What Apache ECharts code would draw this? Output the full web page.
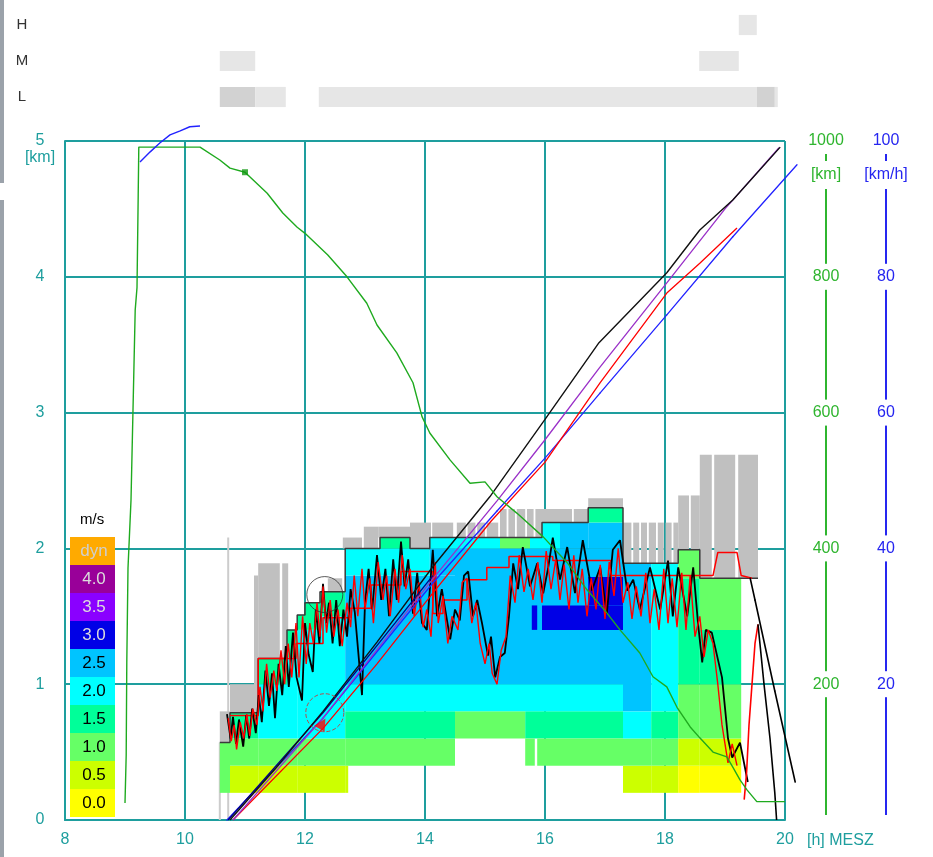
<!DOCTYPE html>
<html>
<head>
<meta charset="utf-8"/>
<style>
  html, body { margin: 0; height: 100%; background: #fff; }
  #main { width: 933px; height: 857px; }
</style>
<script src="https://cdn.jsdelivr.net/npm/echarts@6/dist/echarts.min.js"></script>
</head>
<body>
<div id="main"></div>
<script type="text/javascript">
// Steigwerte (m/s) Farbstufen
var levelNames  = ['0.0', '0.5', '1.0', '1.5', '2.0', '2.5', '3.0', '3.5', '4.0', 'dyn'];
var levelColors = ['#ffff00', '#ccff00', '#66ff66', '#00ff99', '#00ffff', '#00c4ff', '#0000e6', '#8a00ff', '#990099', '#ffaa00'];
var levelTextColors = ['#000', '#000', '#000', '#000', '#000', '#000', '#dcdcdc', '#dcdcdc', '#dcdcdc', '#cfcfcf'];

// Bewoelkung oben: [von, bis, zeile(0=H,1=M,2=L), dunkel]
var cloudRows = ['H', 'M', 'L'];
var cloudBars = [
  [19.23, 19.53, 0, 0],
  [10.58, 11.17, 1, 0], [18.57, 19.23, 1, 0],
  [10.58, 11.17, 2, 1], [11.17, 11.68, 2, 0], [12.23, 19.53, 2, 0], [19.53, 19.83, 2, 1], [19.83, 19.88, 2, 0]
];

// Thermik-Zellen: [von h, bis h, unten km, oben km, stufe]
var cells = [
  [10.58, 10.75, 0.2, 0.57, 2],
  [10.75, 11.22, 0.2, 0.4, 1], [10.75, 11.22, 0.4, 0.6, 2], [10.75, 11.22, 0.6, 0.79, 3],
  [11.22, 11.70, 0.2, 0.4, 1], [11.22, 11.70, 0.4, 0.6, 2], [11.22, 11.70, 0.6, 1.0, 4], [11.22, 11.70, 1.0, 1.19, 3],
  [11.70, 11.87, 0.2, 0.4, 1], [11.70, 11.87, 0.4, 0.6, 2], [11.70, 11.87, 0.6, 1.2, 4], [11.70, 11.87, 1.2, 1.4, 3],
  [11.87, 12.00, 0.2, 0.4, 1], [11.87, 12.00, 0.4, 0.6, 2], [11.87, 12.00, 0.6, 1.4, 4], [11.87, 12.00, 1.4, 1.51, 3],
  [12.00, 12.25, 0.2, 0.4, 1], [12.00, 12.25, 0.4, 0.6, 2], [12.00, 12.25, 0.6, 1.4, 4], [12.00, 12.25, 1.4, 1.6, 3],
  [12.25, 12.67, 0.2, 0.4, 1], [12.25, 12.67, 0.4, 0.6, 2], [12.25, 12.67, 0.6, 1.5, 4], [12.25, 12.67, 1.5, 1.68, 3],
  [12.67, 12.72, 0.2, 0.4, 1],
  [12.67, 14.50, 0.4, 0.6, 2], [12.67, 14.50, 0.6, 0.8, 3], [12.67, 14.50, 0.8, 1.0, 4], [12.67, 14.50, 1.0, 1.8, 5],
  [12.67, 14.08, 1.8, 2.0, 4], [14.08, 14.50, 1.8, 2.0, 5],
  [13.25, 13.75, 2.0, 2.08, 3], [14.08, 14.50, 2.0, 2.08, 4],
  [14.50, 15.67, 0.6, 0.8, 2], [15.67, 17.30, 0.6, 0.8, 3],
  [14.50, 17.30, 0.8, 1.0, 4], [14.50, 17.30, 1.0, 2.0, 5],
  [14.50, 15.25, 2.0, 2.08, 4], [15.25, 15.75, 2.0, 2.08, 2], [15.75, 15.95, 2.0, 2.08, 4],
  [15.67, 15.83, 0.4, 0.6, 2], [15.87, 17.30, 0.4, 0.6, 2],
  [15.95, 16.25, 2.0, 2.19, 4], [16.25, 16.72, 2.0, 2.19, 5],
  [16.72, 17.30, 2.0, 2.19, 5], [16.72, 17.30, 2.19, 2.3, 3],
  [15.78, 15.87, 1.4, 1.58, 6], [15.95, 17.30, 1.4, 1.58, 6], [16.72, 17.30, 1.58, 1.79, 6],
  [17.30, 17.77, 0.2, 0.4, 1], [17.30, 17.77, 0.4, 0.6, 2], [17.30, 17.77, 0.6, 0.8, 4], [17.30, 17.77, 0.8, 1.89, 5],
  [17.77, 18.22, 0.2, 0.4, 1], [17.77, 18.22, 0.4, 0.6, 2], [17.77, 18.22, 0.6, 0.8, 3], [17.77, 18.22, 0.8, 1.89, 4],
  [18.22, 18.58, 0.2, 0.4, 0], [18.22, 18.58, 0.4, 0.6, 1], [18.22, 18.58, 0.6, 1.0, 2], [18.22, 18.58, 1.0, 1.78, 3], [18.22, 18.58, 1.78, 1.99, 2],
  [18.58, 19.27, 0.2, 0.4, 0], [18.58, 19.27, 0.4, 0.6, 1], [18.58, 19.27, 0.6, 1.0, 2], [18.58, 19.27, 1.0, 1.4, 3], [18.58, 19.27, 1.4, 1.78, 2]
];

// Wolken ueber der Thermik (grau): [von, bis, unten, oben]
var cloudCols = [
  [10.58, 10.75, 0.57, 0.80], [10.75, 11.15, 0.79, 1.00], [11.15, 11.22, 0.79, 1.80],
  [11.22, 11.58, 1.19, 1.89], [11.62, 11.72, 1.19, 1.89], [12.38, 12.62, 1.60, 1.78],
  [12.63, 12.95, 2.00, 2.08], [12.98, 13.22, 2.00, 2.16], [13.22, 13.75, 2.08, 2.16],
  [13.75, 14.10, 2.00, 2.19], [14.12, 14.47, 2.08, 2.19],
  [14.53, 14.68, 2.08, 2.19], [14.71, 14.84, 2.08, 2.19], [14.87, 15.00, 2.08, 2.19], [15.03, 15.22, 2.08, 2.19],
  [15.25, 15.36, 2.08, 2.29], [15.39, 15.50, 2.08, 2.29], [15.53, 15.67, 2.08, 2.29], [15.70, 15.81, 2.08, 2.29], [15.84, 15.95, 2.08, 2.29],
  [15.95, 16.45, 2.19, 2.29], [16.48, 16.72, 2.19, 2.29], [16.72, 17.30, 2.30, 2.37],
  [17.30, 17.44, 1.89, 2.19], [17.47, 17.57, 1.89, 2.19], [17.60, 17.70, 1.89, 2.19], [17.73, 17.85, 1.89, 2.19],
  [17.88, 17.98, 1.89, 2.19], [18.01, 18.11, 1.89, 2.19], [18.14, 18.22, 1.89, 2.19],
  [18.22, 18.40, 1.99, 2.39], [18.43, 18.58, 1.99, 2.39],
  [18.58, 18.78, 1.78, 2.69], [18.82, 19.17, 1.78, 2.69], [19.22, 19.55, 1.78, 2.69]
];

// senkrechte graue Linien: [h, von km, bis km]
var grayLines = [[10.58, 0, 0.57], [10.72, 0, 2.08]];

// Thermik-Obergrenze
var topLine = [[10.58, 0.57], [10.75, 0.57], [10.75, 0.79], [11.22, 0.79], [11.22, 1.19], [11.70, 1.19], [11.70, 1.40],
  [11.87, 1.40], [11.87, 1.51], [12.00, 1.51], [12.00, 1.60], [12.25, 1.60], [12.25, 1.68], [12.67, 1.68], [12.67, 2.00],
  [13.25, 2.00], [13.25, 2.08], [13.75, 2.08], [13.75, 2.00], [14.08, 2.00], [14.08, 2.08], [15.95, 2.08], [15.95, 2.19],
  [16.72, 2.19], [16.72, 2.30], [17.30, 2.30], [17.30, 1.89], [18.22, 1.89], [18.22, 1.99], [18.58, 1.99], [18.58, 1.78], [19.55, 1.78]];

var redStep = [[10.75, 0.77], [11.22, 0.77], [11.22, 1.19], [11.85, 1.19], [11.85, 1.30], [12.30, 1.30], [12.30, 1.49],
  [12.75, 1.49], [12.75, 1.56], [13.10, 1.56], [13.10, 1.73], [13.60, 1.73], [13.60, 1.83], [14.13, 1.83], [14.13, 1.52],
  [14.30, 1.52], [14.30, 1.62], [14.70, 1.62], [14.70, 1.77], [15.03, 1.77], [15.03, 1.86], [15.40, 1.86], [15.40, 1.94],
  [16.13, 1.94], [16.13, 1.91], [17.10, 1.91], [17.10, 1.80], [18.80, 1.80], [18.88, 1.97], [19.20, 1.97], [19.27, 1.80], [19.45, 1.78]];

// Flughoehe (schwarz / rot)
var blackTrace = [[10.70, 0.78], [10.76, 0.60], [10.80, 0.76], [10.85, 0.56], [10.90, 0.74], [10.97, 0.54], [11.02, 0.77],
  [11.07, 0.60], [11.12, 0.82], [11.18, 0.64], [11.23, 0.92], [11.28, 0.72], [11.34, 1.10], [11.40, 0.84], [11.45, 1.08],
  [11.50, 0.75], [11.56, 1.15], [11.62, 0.92], [11.68, 1.28], [11.73, 0.98], [11.80, 1.38], [11.86, 1.05], [11.95, 0.88],
  [12.00, 1.45], [12.06, 1.22], [12.13, 1.09], [12.18, 1.55], [12.24, 1.30], [12.30, 1.74], [12.35, 1.45], [12.40, 1.60],
  [12.46, 1.30], [12.52, 1.62], [12.58, 1.28], [12.64, 1.55], [12.70, 1.35], [12.76, 1.70], [12.83, 1.53], [12.95, 0.92],
  [13.00, 1.60], [13.06, 1.85], [13.12, 1.55], [13.20, 1.95], [13.27, 1.62], [13.34, 1.85], [13.40, 1.50], [13.47, 1.92],
  [13.53, 1.62], [13.60, 2.05], [13.66, 1.72], [13.72, 1.92], [13.80, 1.52], [13.87, 1.82], [13.95, 1.45], [14.03, 1.40],
  [14.13, 1.99], [14.20, 1.50], [14.28, 1.70], [14.42, 1.33], [14.50, 1.55], [14.58, 1.47], [14.65, 1.80], [14.72, 1.83],
  [14.80, 1.50], [14.87, 1.62], [14.95, 1.45], [15.05, 1.21], [15.10, 1.35], [15.17, 1.05], [15.25, 1.20], [15.33, 1.23],
  [15.40, 1.50], [15.47, 1.89], [15.55, 1.70], [15.63, 2.01], [15.75, 1.72], [15.87, 1.89], [15.97, 1.67], [16.05, 1.85],
  [16.13, 2.08], [16.25, 1.77], [16.37, 2.01], [16.50, 1.67], [16.63, 2.06], [16.78, 1.69], [16.92, 1.86], [17.03, 1.52],
  [17.13, 1.99], [17.25, 2.06], [17.37, 1.69], [17.47, 1.77], [17.58, 1.55], [17.75, 1.86], [17.92, 1.55], [18.05, 1.91],
  [18.13, 1.50], [18.22, 1.86], [18.37, 1.50], [18.47, 1.86], [18.55, 1.45], [18.62, 1.16], [18.68, 1.40], [18.78, 1.38],
  [18.95, 1.05], [19.05, 0.60], [19.12, 0.46], [19.25, 0.57], [19.38, 0.28]];

var redTrace = [[10.72, 0.75], [10.77, 0.58], [10.82, 0.70], [10.86, 0.52], [10.92, 0.72], [10.98, 0.60], [11.03, 0.78],
  [11.08, 0.62], [11.13, 0.82], [11.20, 0.70], [11.25, 0.98], [11.30, 0.80], [11.36, 1.15], [11.42, 0.90], [11.48, 1.10],
  [11.53, 0.95], [11.60, 1.25], [11.66, 1.00], [11.72, 1.30], [11.78, 1.05], [11.85, 1.45], [11.90, 1.05], [11.96, 1.50],
  [12.02, 1.15], [12.08, 1.45], [12.14, 1.30], [12.20, 1.60], [12.25, 1.35], [12.30, 1.72], [12.36, 1.38], [12.42, 1.62],
  [12.48, 1.35], [12.55, 1.55], [12.62, 1.28], [12.70, 1.60], [12.76, 1.42], [12.82, 1.80], [12.88, 1.50], [12.95, 1.85],
  [13.00, 1.55], [13.08, 1.78], [13.14, 1.45], [13.22, 1.90], [13.30, 1.62], [13.36, 1.80], [13.42, 1.50], [13.50, 1.85],
  [13.56, 1.60], [13.62, 1.95], [13.68, 1.70], [13.75, 1.85], [13.82, 1.50], [13.90, 1.75], [13.97, 1.42], [14.03, 1.55],
  [14.10, 1.35], [14.17, 1.90], [14.22, 1.45], [14.30, 1.65], [14.38, 1.30], [14.45, 1.50], [14.55, 1.40], [14.62, 1.75],
  [14.70, 1.78], [14.78, 1.45], [14.85, 1.60], [14.92, 1.30], [15.00, 1.15], [15.07, 1.30], [15.12, 1.08], [15.20, 1.00],
  [15.27, 1.25], [15.35, 1.35], [15.42, 1.80], [15.50, 1.60], [15.57, 1.95], [15.65, 1.68], [15.72, 1.85], [15.80, 1.62],
  [15.88, 1.90], [15.95, 1.60], [16.02, 1.98], [16.10, 1.70], [16.18, 1.92], [16.25, 1.62], [16.32, 1.88], [16.40, 1.55],
  [16.48, 1.95], [16.55, 1.60], [16.62, 1.85], [16.70, 1.50], [16.77, 1.78], [16.85, 1.55], [16.92, 1.88], [17.00, 1.48],
  [17.07, 1.90], [17.15, 1.65], [17.22, 2.00], [17.30, 1.60], [17.38, 1.75], [17.45, 1.48], [17.52, 1.72], [17.60, 1.50],
  [17.68, 1.82], [17.75, 1.45], [17.82, 1.70], [17.90, 1.40], [17.98, 1.85], [18.05, 1.45], [18.12, 1.78], [18.20, 1.42],
  [18.28, 1.82], [18.35, 1.40], [18.42, 1.80], [18.50, 1.35], [18.58, 1.50], [18.65, 1.20], [18.72, 1.40], [18.80, 1.30],
  [18.88, 1.00], [18.95, 0.70], [19.05, 0.42], [19.12, 0.56], [19.20, 0.40]];

var redUp = [[19.32, 0.15], [19.36, 0.35], [19.40, 0.70], [19.45, 1.00], [19.50, 1.30], [19.55, 1.44]];
var blackDown1 = [[19.55, 1.44], [19.65, 1.00], [19.75, 0.60], [19.83, 0.20], [19.86, 0.00]];
var blackDown2 = [[19.42, 1.78], [19.50, 1.62], [19.83, 0.95], [20.17, 0.28]];

// Strecke [km] (gruene Achse)
var diagBlack  = [[10.75, 0], [11.5, 75], [12.3, 160], [13.2, 262], [14.13, 373], [15.08, 476], [16.0, 590], [16.9, 703], [18.03, 806], [18.58, 869], [19.13, 913], [19.92, 991]];
var diagPurple = [[10.80, 0], [12.3, 150], [14.13, 355], [15.2, 470], [16.0, 560], [16.9, 665], [18.03, 791], [19.0, 900], [19.9, 990]];
var diagRed    = [[10.80, 0], [12.3, 135], [13.2, 230], [14.13, 334], [15.1, 440], [16.0, 527], [16.92, 644], [18.03, 776], [18.58, 820], [19.2, 872]];
var diagBlue   = [[10.70, 0], [12.3, 150], [14.13, 349], [15.2, 455], [16.0, 533], [16.92, 629], [18.03, 744], [19.13, 859], [20.2, 965]];
var diagNavy   = [[10.72, 0], [12.3, 158], [13.5, 290], [14.13, 360]];

var greenLine = [[9.00, 25], [9.02, 96], [9.03, 233], [9.05, 371], [9.10, 471], [9.17, 751], [9.20, 784], [9.22, 920], [9.23, 991],
  [10.25, 991], [10.58, 972], [10.75, 960], [11.00, 954], [11.37, 923], [11.63, 894], [11.87, 873], [12.00, 864], [12.38, 832],
  [12.70, 800], [13.03, 761], [13.20, 729], [13.53, 688], [13.80, 644], [13.95, 594], [14.08, 570], [14.42, 530], [14.75, 496],
  [15.00, 498], [15.20, 476], [15.53, 452], [15.97, 417], [16.37, 379], [16.70, 339], [17.03, 305], [17.25, 280], [17.58, 246],
  [17.80, 211], [18.03, 196], [18.20, 166], [18.42, 137], [18.58, 121], [18.80, 100], [19.03, 93], [19.13, 78], [19.25, 59],
  [19.37, 44], [19.53, 27], [20.00, 27]];
var greenMark = [[11.00, 954]];

// Geschwindigkeit [km/h] (blaue Achse)
var blueCurve = [[9.25, 96.9], [9.42, 98.4], [9.58, 99.7], [9.75, 100.9], [9.92, 101.5], [10.08, 102.1], [10.25, 102.2]];

var blackRing = [[12.33, 1.66]];
var redRing = [[12.33, 0.79]];
var redFlag = [[12.29, 0.71]];

var teal = '#1e9e9e', green = '#2fb52f', blue = '#2626f0';
var font = "'Liberation Sans', Arial, sans-serif";

var myChart = echarts.init(document.getElementById('main'));

function rectFrom(api, fill) {
  var a = api.coord([api.value(0), api.value(3)]);
  var b = api.coord([api.value(1), api.value(2)]);
  return { type: 'rect', shape: { x: a[0], y: a[1], width: b[0] - a[0], height: b[1] - a[1] }, style: { fill: fill } };
}

function lineSeries(data, color, width, yIdx, z, noClip) {
  return { type: 'line', data: data, xAxisIndex: 0, yAxisIndex: yIdx, symbol: 'none', z: z, clip: !noClip,
    lineStyle: { color: color, width: width }, silent: true };
}

// Linien, die ueber den rechten Rand hinausgehen: als Segmente zeichnen
function segSeries(data, color, width, yIdx, z) {
  var segs = [];
  for (var i = 1; i < data.length; i++) {
    segs.push([data[i - 1][0], data[i - 1][1], data[i][0], data[i][1]]);
  }
  return { type: 'custom', xAxisIndex: 0, yAxisIndex: yIdx, data: segs, encode: { x: [0, 2], y: [1, 3] },
    z: z, silent: true, clip: false,
    renderItem: function (params, api) {
      var a = api.coord([api.value(0), api.value(1)]);
      var b = api.coord([api.value(2), api.value(3)]);
      return { type: 'line', shape: { x1: a[0], y1: a[1], x2: b[0], y2: b[1] }, style: { stroke: color, lineWidth: width, lineCap: 'round' } };
    } };
}

// Legende
var legendEls = [{ type: 'text', left: 80, top: 512, style: { text: 'm/s', fill: '#000', font: '15px ' + font } }];
for (var k = 0; k < levelNames.length; k++) {
  var lv = levelNames.length - 1 - k;
  legendEls.push({ type: 'rect', shape: { x: 70, y: 537 + k * 28, width: 45, height: 28 }, style: { fill: levelColors[lv] }, z: 100 });
  legendEls.push({ type: 'text', x: 94, y: 551 + k * 28, z: 101,
    style: { text: levelNames[lv], fill: levelTextColors[lv], font: '17px ' + font, align: 'center', verticalAlign: 'middle' } });
}

var options = {
  animation: false,
  textStyle: { fontFamily: font },
  grid: [
    { left: 65, right: 148, top: 141, bottom: 37 },
    { left: 65, right: 148, top: 7, height: 108 }
  ],
  xAxis: [
    { type: 'value', gridIndex: 0, min: 8, max: 20, interval: 2,
      axisLine: { show: true, lineStyle: { color: teal, width: 2 } }, axisTick: { show: false },
      axisLabel: { color: teal, fontSize: 16, margin: 12 },
      splitLine: { show: true, lineStyle: { color: teal, width: 2 } } },
    { type: 'value', gridIndex: 1, min: 8, max: 20, show: false }
  ],
  yAxis: [
    { type: 'value', gridIndex: 0, min: 0, max: 5, interval: 1,
      axisLine: { show: true, lineStyle: { color: teal, width: 2 } }, axisTick: { show: false },
      axisLabel: { color: teal, fontSize: 16, align: 'center', margin: 25 },
      splitLine: { show: true, lineStyle: { color: teal, width: 2 } } },
    { type: 'value', gridIndex: 0, position: 'right', offset: 41, min: 0, max: 1000, interval: 200,
      axisLine: { show: true, lineStyle: { color: green, width: 2 } }, axisTick: { show: false }, splitLine: { show: false },
      axisLabel: { color: green, fontSize: 16, align: 'center', margin: 0, backgroundColor: '#fff', padding: [5, 2],
        formatter: function (v) { return v === 0 ? '' : v; } } },
    { type: 'value', gridIndex: 0, position: 'right', offset: 101, min: 0, max: 100, interval: 20,
      axisLine: { show: true, lineStyle: { color: blue, width: 2 } }, axisTick: { show: false }, splitLine: { show: false },
      axisLabel: { color: blue, fontSize: 16, align: 'center', margin: 0, backgroundColor: '#fff', padding: [5, 2],
        formatter: function (v) { return v === 0 ? '' : v; } } },
    { type: 'category', gridIndex: 1, data: cloudRows, inverse: true,
      axisLine: { show: false }, axisTick: { show: false }, splitLine: { show: false },
      axisLabel: { color: '#333', fontSize: 15, align: 'center', margin: 43 } }
  ],
  graphic: [
    { type: 'rect', shape: { x: 0, y: 0, width: 4, height: 183 }, style: { fill: '#9ba2aa' } },
    { type: 'rect', shape: { x: 0, y: 200, width: 4, height: 657 }, style: { fill: '#9ba2aa' } },
    { type: 'text', x: 40, y: 158, z: 100, style: { text: '[km]', fill: teal, font: '16px ' + font, align: 'center', verticalAlign: 'middle' } },
    { type: 'text', x: 826, y: 175, z: 100, style: { text: '[km]', fill: green, font: '16px ' + font, align: 'center', verticalAlign: 'middle', backgroundColor: '#fff', padding: [6, 2] } },
    { type: 'text', x: 886, y: 175, z: 100, style: { text: '[km/h]', fill: blue, font: '16px ' + font, align: 'center', verticalAlign: 'middle', backgroundColor: '#fff', padding: [6, 2] } },
    { type: 'text', x: 807, y: 841, z: 100, style: { text: '[h] MESZ', fill: teal, font: '16px ' + font, align: 'left', verticalAlign: 'middle' } }
  ].concat(legendEls),
  series: [
    { type: 'custom', xAxisIndex: 1, yAxisIndex: 3, data: cloudBars, encode: { x: [0, 1], y: 2 }, silent: true,
      renderItem: function (params, api) {
        var a = api.coord([api.value(0), api.value(2)]);
        var b = api.coord([api.value(1), api.value(2)]);
        var h = api.size([0, 1])[1] * 0.56;
        return { type: 'rect', shape: { x: a[0], y: a[1] - h / 2, width: b[0] - a[0], height: h },
          style: { fill: api.value(3) ? '#d2d2d2' : '#e6e6e6' } };
      } },
    { type: 'custom', xAxisIndex: 0, yAxisIndex: 0, data: grayLines, encode: { x: 0, y: [1, 2] }, silent: true, z: 1,
      renderItem: function (params, api) {
        var a = api.coord([api.value(0), api.value(1)]);
        var b = api.coord([api.value(0), api.value(2)]);
        return { type: 'line', shape: { x1: a[0], y1: a[1], x2: b[0], y2: b[1] }, style: { stroke: '#cccccc', lineWidth: 2 } };
      } },
    { type: 'custom', xAxisIndex: 0, yAxisIndex: 0, data: cloudCols, encode: { x: [0, 1], y: [2, 3] }, silent: true, z: 1,
      renderItem: function (params, api) { return rectFrom(api, '#c0c0c0'); } },
    { type: 'custom', xAxisIndex: 0, yAxisIndex: 0, data: cells, encode: { x: [0, 1], y: [2, 3] }, silent: true, z: 2,
      renderItem: function (params, api) { return rectFrom(api, levelColors[api.value(4)]); } },
    lineSeries(topLine, '#3a3a3a', 1.5, 0, 3),
    lineSeries(redStep, '#ff0000', 1.5, 0, 4),
    lineSeries(blackTrace, '#000000', 1.8, 0, 5),
    lineSeries(redTrace, '#ff0000', 1.4, 0, 5),
    lineSeries(redUp, '#ff0000', 1.6, 0, 5),
    lineSeries(blackDown1, '#000000', 1.6, 0, 5),
    segSeries(blackDown2, '#000000', 1.6, 0, 5),
    lineSeries(diagNavy, '#000088', 1.3, 1, 6),
    segSeries(diagBlue, '#2222ff', 1.3, 1, 6),
    lineSeries(diagRed, '#ff0000', 1.3, 1, 6),
    lineSeries(diagPurple, '#9a30c8', 1.3, 1, 6),
    lineSeries(diagBlack, '#111111', 1.4, 1, 6),
    lineSeries(greenLine, '#1faa1f', 1.4, 1, 6),
    lineSeries(blueCurve, '#2222ff', 1.4, 2, 6, true),
    { type: 'scatter', xAxisIndex: 0, yAxisIndex: 1, data: greenMark, symbol: 'rect', symbolSize: 6, z: 7, silent: true,
      itemStyle: { color: '#119911' } },
    { type: 'scatter', xAxisIndex: 0, yAxisIndex: 0, data: blackRing, symbol: 'circle', symbolSize: 36, z: 7, silent: true,
      itemStyle: { color: 'rgba(0,0,0,0)', borderColor: '#333', borderWidth: 1 } },
    { type: 'scatter', xAxisIndex: 0, yAxisIndex: 0, data: redRing, symbol: 'circle', symbolSize: 38, z: 7, silent: true,
      itemStyle: { color: 'rgba(0,0,0,0)', borderColor: '#dd2222', borderWidth: 1, borderType: 'dashed' } },
    { type: 'scatter', xAxisIndex: 0, yAxisIndex: 0, data: redFlag, symbol: 'triangle', symbolSize: 12, symbolRotate: -30, z: 7, silent: true,
      itemStyle: { color: '#ff0000' } }
  ]
};

myChart.setOption(options);
window.onresize = myChart.resize;
</script>
</body>
</html>
